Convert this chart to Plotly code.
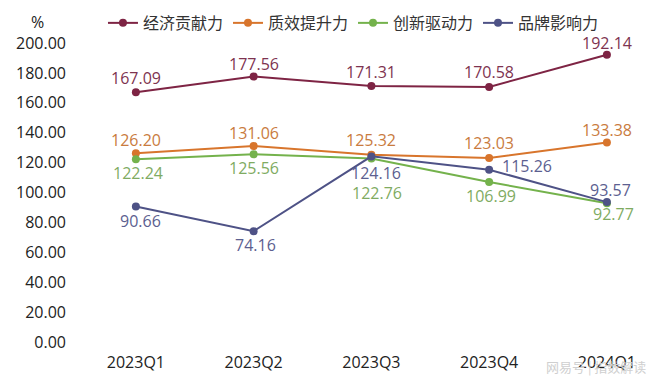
import plotly.graph_objects as go

quarters = ["2023Q1", "2023Q2", "2023Q3", "2023Q4", "2024Q1"]
series_names = ["经济贡献力", "质效提升力", "创新驱动力", "品牌影响力"]
economic = [167.09, 177.56, 171.31, 170.58, 192.14]
quality = [126.20, 131.06, 125.32, 123.03, 133.38]
innovation = [122.24, 125.56, 122.76, 106.99, 92.77]
brand = [90.66, 74.16, 124.16, 115.26, 93.57]
y_ticks = [0, 20, 40, 60, 80, 100, 120, 140, 160, 180, 200]

series_values = [economic, quality, innovation, brand]
line_colors = ["#7E2444", "#D8752C", "#74B24C", "#4E5286"]
label_colors = ["#7E3350", "#C97B3E", "#80AB62", "#5C6090"]

# label offsets in pixels (xshift, yshift); positive yshift = up
offsets = [
    [(0, 14), (0, 13), (0, 14), (0, 15), (0, 12)],
    [(0, 13), (0, 13), (0, 15), (0, 15), (0, 13)],
    [(2, -14), (0, -14), (6, -35), (2, -14), (7, -11)],
    [(5, -15), (2, -14), (5, -17), (None, 4), (4, 12)],
]

FONT = "Open Sans, Noto Sans CJK SC, sans-serif"

fig = go.Figure()
for name, vals, col in zip(series_names, series_values, line_colors):
    fig.add_trace(go.Scatter(
        x=quarters, y=vals, name=name, mode="lines+markers",
        line=dict(color=col, width=2),
        marker=dict(color=col, size=8),
        hoverinfo="skip",
    ))

for vals, offs, lc in zip(series_values, offsets, label_colors):
    for q, v, (dx, dy) in zip(quarters, vals, offs):
        if dx is None:
            fig.add_annotation(x=q, y=v, text=f"{v:.2f}", showarrow=False,
                               xanchor="left", yanchor="middle", xshift=11, yshift=dy,
                               font=dict(size=16, color=lc, family=FONT))
        else:
            fig.add_annotation(x=q, y=v, text=f"{v:.2f}", showarrow=False,
                               xanchor="center", yanchor="middle", xshift=dx, yshift=dy,
                               font=dict(size=16, color=lc, family=FONT))

fig.add_annotation(xref="paper", yref="paper", x=-0.0676, y=1.07, text="%",
                   showarrow=False, xanchor="center", yanchor="middle",
                   font=dict(size=16, color="#222222", family=FONT))
fig.add_annotation(xref="paper", yref="paper", x=0.99, y=-0.0836, text="网易号 | 指数解读",
                   showarrow=False, xanchor="right", yanchor="middle",
                   font=dict(size=13, color="#cfcfcf", family="Noto Sans CJK SC"))

# the page body adds an 8px margin, so the figure is 8px smaller than the window
fig.update_layout(
    width=652, height=378,
    margin=dict(l=69, r=6, t=35, b=44, autoexpand=False),
    paper_bgcolor="white", plot_bgcolor="white",
    font=dict(family=FONT, size=16, color="#222222"),
    showlegend=True,
    legend=dict(orientation="h", x=0.045, y=1.067, xanchor="left", yanchor="middle",
                font=dict(size=16, color="#333333", family="Noto Sans CJK SC"),
                bgcolor="rgba(0,0,0,0)", itemwidth=30, tracegroupgap=0),
    xaxis=dict(type="category", range=[-0.5, 4.4], showgrid=False, zeroline=False,
               showline=False, ticks="", tickfont=dict(size=16, color="#222222"),
               ticklabelstandoff=9),
    yaxis=dict(range=[0, 200], tickvals=y_ticks, ticktext=[f"{t:.2f}" for t in y_ticks],
               showgrid=False, zeroline=False, showline=False, ticks="",
               tickfont=dict(size=16, color="#222222"), ticklabelstandoff=10),
)

fig.write_html("out.html")
